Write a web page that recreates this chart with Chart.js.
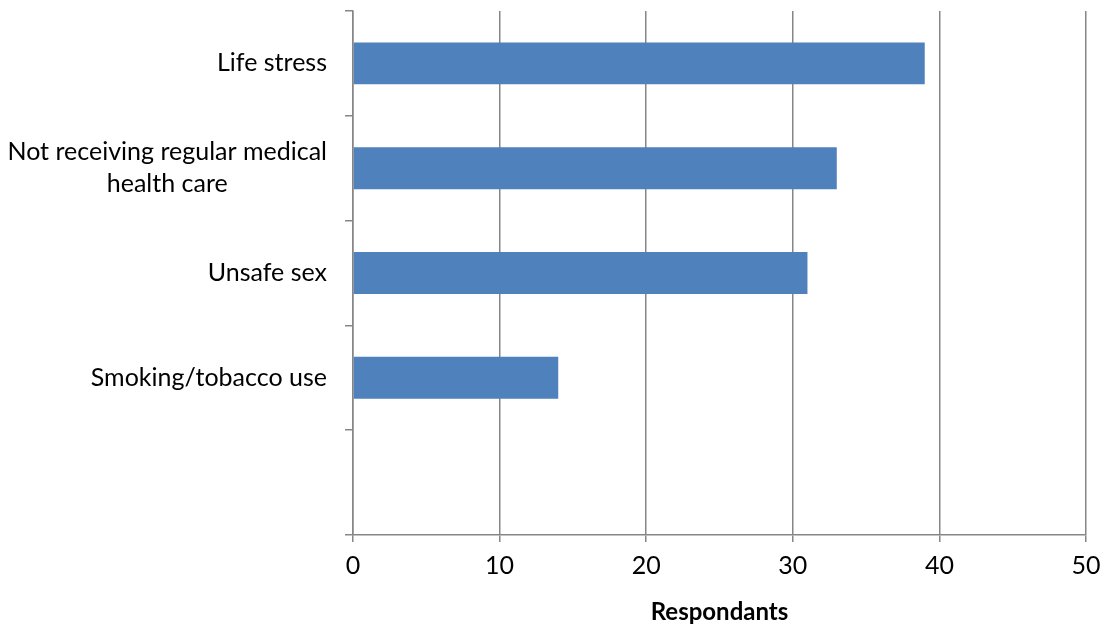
<!DOCTYPE html>
<html>
<head>
<meta charset="utf-8">
<script src="https://cdn.jsdelivr.net/npm/chart.js@4/dist/chart.umd.min.js"></script>
<style>
  html, body { margin: 0; padding: 0; background: #fff; }
  #wrap { width: 1103px; height: 627px; }
</style>
</head>
<body>
<div id="wrap"><canvas id="grafico" width="1103" height="627"></canvas></div>
<script>
// categorias (la ultima queda vacia, como en el original)
const categorias = [
  ["Life stress"],
  ["Not receiving regular medical", "health care"],
  ["Unsafe sex"],
  ["Smoking/tobacco use"],
  [""]
];
const respondientes = [39, 33, 31, 14, null];
const ticksX = [0, 10, 20, 30, 40, 50];

const gris = "#868686";
const fuente = "Lato, 'Open Sans', sans-serif";

// dibuja las etiquetas del eje Y: bloque alineado a la derecha, lineas centradas
const etiquetasY = {
  id: "etiquetasY",
  afterDraw(chart) {
    const ctx = chart.ctx;
    const y = chart.scales.y;
    ctx.save();
    ctx.font = "25px " + fuente;
    ctx.fillStyle = "#000";
    ctx.textAlign = "center";
    ctx.textBaseline = "middle";
    const bordeDerecho = y.right - 26;
    const alto = 32;
    categorias.forEach((lineas, i) => {
      const ancho = Math.max(...lineas.map((l) => ctx.measureText(l).width));
      const cx = bordeDerecho - ancho / 2;
      const cy = y.getPixelForValue(i);
      const inicio = cy - ((lineas.length - 1) * alto) / 2;
      lineas.forEach((l, j) => ctx.fillText(l, cx, inicio + j * alto));
    });
    ctx.restore();
  }
};

new Chart(document.getElementById("grafico").getContext("2d"), {
  type: "bar",
  data: {
    labels: categorias.map((c) => c.join(" ")),
    datasets: [
      {
        label: "Respondants",
        data: respondientes,
        backgroundColor: "#4F81BD",
        borderWidth: 0,
        barPercentage: 0.4,
        categoryPercentage: 1
      }
    ]
  },
  options: {
    indexAxis: "y",
    responsive: false,
    animation: false,
    layout: { padding: { top: 11, right: 17, left: 0, bottom: 0 } },
    plugins: { legend: { display: false }, tooltip: { enabled: false } },
    scales: {
      x: {
        min: 0,
        max: 50,
        afterBuildTicks: (eje) => {
          eje.ticks = ticksX.map((v) => ({ value: v }));
        },
        afterFit: (eje) => {
          eje.height = 92;
          eje.paddingLeft = 0;
          eje.paddingRight = 0;
        },
        grid: {
          color: gris,
          lineWidth: 1.5,
          tickLength: 7,
          tickColor: gris
        },
        border: { display: true, color: gris, width: 1.5 },
        ticks: {
          color: "#000",
          font: { family: fuente, size: 25 },
          padding: 9
        },
        title: {
          display: true,
          text: "Respondants",
          color: "#000",
          font: { family: fuente, size: 24, weight: "bold" },
          padding: { top: 2, bottom: 0 }
        }
      },
      y: {
        offset: true,
        afterFit: (eje) => {
          eje.width = 353;
        },
        grid: {
          offset: true,
          drawOnChartArea: false,
          drawTicks: true,
          tickLength: 8,
          tickColor: gris,
          lineWidth: 1.5
        },
        border: { display: true, color: gris, width: 1.5 },
        ticks: { display: false }
      }
    }
  },
  plugins: [etiquetasY]
});
</script>
</body>
</html>
